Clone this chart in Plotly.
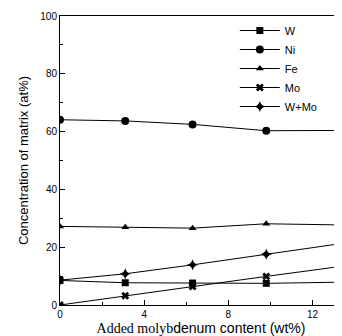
import plotly.graph_objects as go

mo_added = [0, 3.1, 6.3, 9.8, 13.4]
w_vals = [8.5, 7.7, 7.6, 7.5, 7.9]
ni_vals = [64.1, 63.7, 62.5, 60.3, 60.4]
fe_vals = [27.2, 26.9, 26.6, 28.1, 27.7]
mo_vals = [0.0, 3.2, 6.4, 9.9, 13.4]
wmo_vals = [8.6, 10.8, 13.9, 17.6, 21.3]

series = [
    ("W", w_vals, "square", 7),
    ("Ni", ni_vals, "circle", 8),
    ("Fe", fe_vals, "triangle-up", 7),
    ("Mo", mo_vals, "x", 7),
    ("W+Mo", wmo_vals, "star-diamond", 8),
]

fig = go.Figure()
for name, vals, sym, sz in series:
    fig.add_trace(go.Scatter(
        x=mo_added, y=vals, name=name, mode="lines+markers",
        line=dict(color="black", width=1),
        marker=dict(symbol=sym, size=sz, color="black", line=dict(width=0)),
    ))

fig.update_layout(
    width=334, height=328,
    margin=dict(l=52, r=0, t=8, b=31, autoexpand=False),
    paper_bgcolor="white", plot_bgcolor="white",
    font=dict(family="Liberation Sans, Arial, sans-serif", size=10, color="black"),
    showlegend=True,
    legend=dict(x=0.62, y=1.0, xanchor="left", yanchor="top",
                bgcolor="rgba(0,0,0,0)", font=dict(size=11),
                tracegroupgap=0, itemwidth=40),
)
fig.update_xaxes(
    range=[0, 13.4], tickvals=[0, 4, 8, 12], ticks="inside", ticklen=5,
    tickcolor="black", showline=True, linecolor="black", linewidth=1,
    mirror=True, showgrid=False, zeroline=False, automargin=False,
    minor=dict(tickvals=[2, 6, 10], ticks="inside", ticklen=3, tickcolor="black"),
    title=dict(text="<span style='font-family:Liberation Serif'>Added molyb</span>denum content (wt%)",
               font=dict(size=14), standoff=10),
)
fig.update_yaxes(
    range=[0, 100], tickvals=[0, 20, 40, 60, 80, 100], ticks="inside", ticklen=5,
    tickcolor="black", showline=True, linecolor="black", linewidth=1,
    mirror=True, showgrid=False, zeroline=False, automargin=False,
    minor=dict(tickvals=[10, 30, 50, 70, 90], ticks="inside", ticklen=3, tickcolor="black"),
    title=dict(text="Concentration of matrix (at%)", font=dict(size=13), standoff=8),
)
fig.write_html("out.html")
